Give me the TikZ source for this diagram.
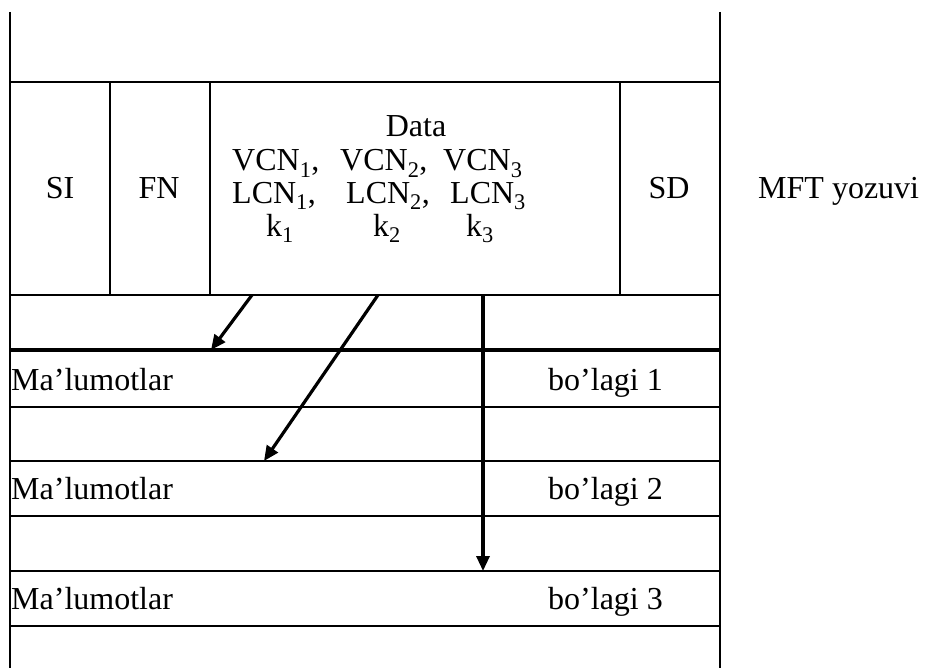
\documentclass[tikz,border=0pt]{standalone}
\usepackage{fontspec}
\setmainfont{Liberation Serif}
\usetikzlibrary{arrows.meta}
\begin{document}
\begin{tikzpicture}[x=1pt,y=-1pt,
  thinline/.style={line width=2pt},
  thickline/.style={line width=3.2pt},
  arrowline/.style={line width=3.2pt,-{Triangle[length=15pt,width=13pt]}},
  lbl/.style={font=\fontsize{32}{38}\selectfont, inner sep=0pt, anchor=base},
  lblw/.style={lbl, anchor=base west}]
\useasboundingbox (0,0) rectangle (925,671);
% outer verticals
\draw[thinline] (10,12) -- (10,668);
\draw[thinline] (720,12) -- (720,668);
% record box
\draw[thinline] (10,82) -- (720,82);
\draw[thinline] (10,295) -- (720,295);
\draw[thinline] (110,82) -- (110,295);
\draw[thinline] (210,82) -- (210,295);
\draw[thinline] (620,82) -- (620,295);
% rows
\draw[thickline] (10,350) -- (720,350);
\draw[thinline] (10,407) -- (720,407);
\draw[thinline] (10,461) -- (720,461);
\draw[thinline] (10,516) -- (720,516);
\draw[thinline] (10,571) -- (720,571);
\draw[thinline] (10,626) -- (720,626);
% labels in the record
\node[lbl] (si) at (60,198) {SI};
\node[lbl] (fn) at (159,198) {FN};
\node[lbl] (sd) at (669,198) {SD};
\node[lblw] (mft) at (758,198) {MFT yozuvi};
\node[lbl] (data) at (416,137) {Data};
\node[lblw] (v1) at (232,171) {VCN\textsubscript{1},};
\node[lblw] (v2) at (340,171) {VCN\textsubscript{2},};
\node[lblw] (v3) at (443,171) {VCN\textsubscript{3}};
\node[lblw] (l1) at (232,203) {LCN\textsubscript{1},};
\node[lblw] (l2) at (346,203) {LCN\textsubscript{2},};
\node[lblw] (l3) at (450,203) {LCN\textsubscript{3}};
\node[lblw] (k1) at (266,236) {k\textsubscript{1}};
\node[lblw] (k2) at (373,236) {k\textsubscript{2}};
\node[lblw] (k3) at (466,236) {k\textsubscript{3}};
% data rows
\node[lblw] (m1) at (11,390) {Ma’lumotlar};
\node[lblw] (b1) at (548,390) {bo’lagi 1};
\node[lblw] (m2) at (11,499) {Ma’lumotlar};
\node[lblw] (b2) at (548,499) {bo’lagi 2};
\node[lblw] (m3) at (11,609) {Ma’lumotlar};
\node[lblw] (b3) at (548,609) {bo’lagi 3};
% arrow end points
\coordinate (a1s) at (252,295);
\coordinate (a1e) at (211,350);
\coordinate (a2s) at (378,295);
\coordinate (a2e) at (264,461);
\coordinate (a3s) at (483,295);
\coordinate (a3e) at (483,571);
\draw[arrowline] (a1s) -- (a1e);
\draw[arrowline] (a2s) -- (a2e);
\draw[arrowline] (a3s) -- (a3e);
\end{tikzpicture}
\end{document}
